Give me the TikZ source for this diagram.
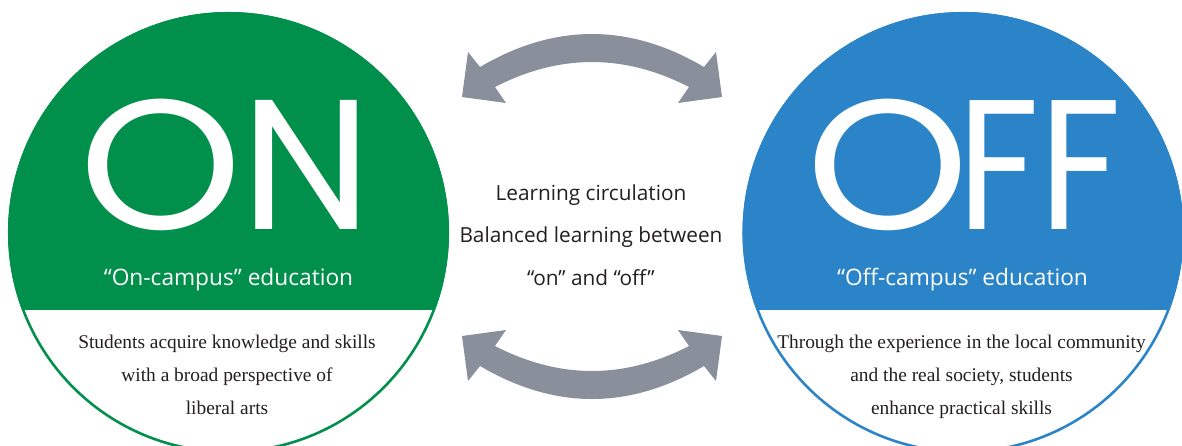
\documentclass[tikz,border=0pt]{standalone}
\usepackage{fontspec}
\setmainfont{Liberation Serif}
\setsansfont{Open Sans}
\newfontfamily\bigfont{Poppins}

\definecolor{ongreen}{HTML}{00904C}
\definecolor{offblue}{HTML}{2A84C7}
\definecolor{arrowgray}{HTML}{8A8F9C}
\definecolor{inkgray}{HTML}{231F20}

\begin{document}
\begin{tikzpicture}[x=1pt,y=-1pt,
  disc/.style={circle,inner sep=0,minimum size=441pt},
  bigword/.style={text=white,inner sep=0,anchor=base,text depth=0pt,font=\bigfont\fontsize{185}{185}\selectfont},
  caption/.style={text=white,inner sep=0,anchor=base,font=\sffamily\fontsize{22.7}{26}\selectfont},
  midtext/.style={text=inkgray,inner sep=0,anchor=base,font=\sffamily\fontsize{20.8}{24}\selectfont},
  note/.style={text=inkgray,inner sep=0,anchor=base,font=\rmfamily\fontsize{19.4}{22}\selectfont}]
  \useasboundingbox (0,0) rectangle (1182,445);
  \clip (0,0) rectangle (1182,445);

  % the two circles, white lower part
  \node[disc,fill=ongreen] (oncirc) at (228.5,232.5) {};
  \node[disc,fill=offblue] (offcirc) at (963,232.5) {};
  \foreach \c/\col in {oncirc/ongreen,offcirc/offblue} {
    \begin{scope}
      \clip (\c.center) circle[radius=220.5];
      \fill[white] ([xshift=-230pt,yshift=-77.5pt]\c.center) rectangle ([xshift=230pt,yshift=-240pt]\c.center);
    \end{scope}
    \draw[\col,line width=2.5pt] (\c.center) circle[radius=219.3];
  }

  % curved two-way arrows
  \foreach \s in {1,-1}
    \fill[arrowgray,shift={(592,216.5)},yscale=\s]
      (-130,-119.5) -- (-124,-164.5) -- (-112,-149.5)
      .. controls (-37.3,-193.5) and (37.3,-193.5) .. (112,-149.5)
      -- (124,-164.5) -- (130,-119.5) -- (86,-113.5) -- (97,-129.5)
      .. controls (32.3,-162.8) and (-32.3,-162.8) .. (-97,-129.5)
      -- (-86,-113.5) -- cycle;

  % headings
  \node[bigword] (onword) at (225.5,229) {\scalebox{1.12}[1]{O}N};
  \node[bigword] (offword) at (964,229) {\scalebox{1.12}[1]{O}\kern-12pt\scalebox{0.88}[1]{F\kern-1pt F}};
  \node[caption] (onlabel) at (228.5,285) {“On-campus” education};
  \node[caption] (offlabel) at (962.5,285) {“Off-campus” education};

  % middle text
  \foreach \txt [count=\i] in {Learning circulation,Balanced learning between,“on” and “off”}
    \node[midtext] (mid\i) at (591,157.5+42.5*\i) {\txt};

  % descriptions
  \foreach \txt [count=\i] in {Students acquire knowledge and skills,with a broad perspective of,liberal arts}
    \node[note] (onnote\i) at (227,315+33*\i) {\txt};
  \foreach \txt [count=\i] in {Through the experience in the local community,{and the real society, students},enhance practical skills}
    \node[note] (offnote\i) at (961.5,315+33*\i) {\txt};
\end{tikzpicture}
\end{document}
